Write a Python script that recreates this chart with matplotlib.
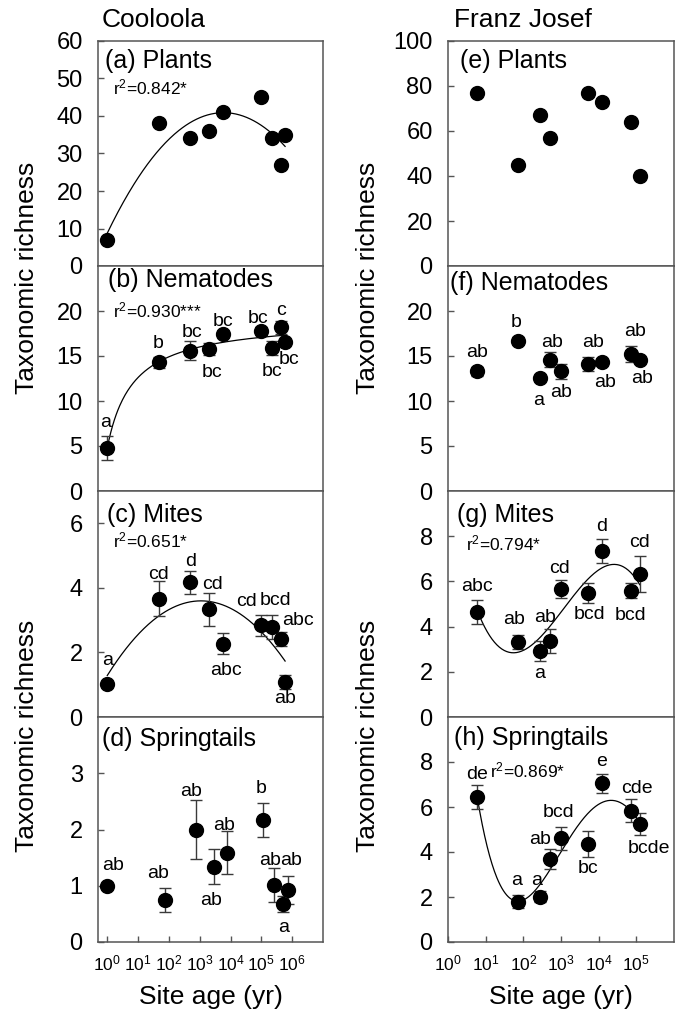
import numpy as np
import matplotlib
matplotlib.use('Agg')
import matplotlib.pyplot as plt
from matplotlib.ticker import NullLocator, FixedLocator

plt.rcParams['font.family'] = 'Liberation Sans'
plt.rcParams['mathtext.fontset'] = 'custom'
plt.rcParams['mathtext.rm'] = 'Liberation Sans'
plt.rcParams['mathtext.it'] = 'Liberation Sans:italic'
plt.rcParams['mathtext.default'] = 'regular'

# ---- data ----
# Cooloola site ages (yr)
cool_age = [1, 46, 490, 2000, 5800, 98000, 219000, 427000, 589000]
cool_age_spr = [1, 74, 760, 2950, 7600, 115000, 257000, 513000, 708000]
# Franz Josef site ages (yr)
fj_age = [6, 74, 270, 510, 1000, 5100, 12300, 72000, 123000]

plants_cool = [7, 38, 34, 36, 41, 45, 34, 27, 35]
nema_cool = [4.8, 14.3, 15.6, 15.8, 17.5, 17.8, 15.9, 18.2, 16.6]
nema_cool_err = [1.3, 0.6, 1.05, 0.65, 0.3, 0.4, 0.8, 0.74, 0.3]
mite_cool = [1.02, 3.67, 4.17, 3.33, 2.27, 2.84, 2.79, 2.41, 1.09]
mite_cool_err = [0.0, 0.54, 0.35, 0.5, 0.33, 0.32, 0.37, 0.22, 0.22]
spr_cool = [1.0, 0.75, 2.0, 1.34, 1.59, 2.17, 1.01, 0.68, 0.92]
spr_cool_err = [0.0, 0.21, 0.52, 0.31, 0.38, 0.3, 0.3, 0.14, 0.25]

plants_fj = [77, 45, 67, 57, np.nan, 77, 73, 64, 40]
nema_fj = [13.3, 16.7, 12.6, 14.6, 13.3, 14.1, 14.3, 15.2, 14.6]
nema_fj_err = [0.5, 0.4, 0.2, 0.8, 0.8, 0.8, 0.3, 0.9, 0.2]
mite_fj = [4.66, 3.33, 2.92, 3.36, 5.66, 5.47, 7.34, 5.59, 6.33]
mite_fj_err = [0.53, 0.32, 0.44, 0.55, 0.38, 0.44, 0.52, 0.33, 0.8]
spr_fj = [6.43, 1.79, 2.01, 3.69, 4.61, 4.36, 7.05, 5.84, 5.24]
spr_fj_err = [0.54, 0.28, 0.24, 0.44, 0.52, 0.56, 0.41, 0.5, 0.49]

nema_cool_let = ['a', 'b', 'bc', 'bc', 'bc', 'bc', 'bc', 'c', 'bc']
mite_cool_let = ['a', 'cd', 'd', 'cd', 'abc', 'cd', 'bcd', 'abc', 'ab']
spr_cool_let = ['ab', 'ab', 'ab', 'ab', 'ab', 'b', 'ab', 'a', 'ab']
nema_fj_let = ['ab', 'b', 'a', 'ab', 'ab', 'ab', 'ab', 'ab', 'ab']
mite_fj_let = ['abc', 'ab', 'a', 'ab', 'cd', 'bcd', 'd', 'bcd', 'cd']
spr_fj_let = ['de', 'a', 'a', 'ab', 'bcd', 'bc', 'e', 'cde', 'bcde']

# ---- label placement (pixels from point centre to text baseline, +y = down) ----
nema_cool_off = [(-2, -21), (0, -14), (2, -14), (3, 28), (0, -8), (-3, -8), (0, 28), (0, -12), (4, 22)]
mite_cool_off = [(0, -19), (0, -20), (0, -16), (3, -20), (3, 31), (-15, -19), (4, -22), (17, -14), (0, 21)]
spr_cool_off = [(6, -16), (-7, -22), (-5, -33), (-3, 38), (-3, -23), (-2, -27), (-4, -20), (0, 28), (4, -25)]
nema_fj_off = [(0, -14), (-2, -14), (-1, 27), (2, -13), (0, 26), (5, -17), (3, 25), (4, -18), (2, 23)]
mite_fj_off = [(0, -21), (-4, -18), (0, 27), (-5, -19), (-2, -16), (2, 26), (0, -20), (0, 29), (0, -27)]
spr_fj_off = [(0, -18), (-2, -17), (-3, -12), (-10, -15), (-2, -21), (0, 29), (0, -17), (6, -18), (9, 29)]

W, H = 684, 1016


def box(left, top, w, h):
    return [left / W, 1 - (top + h) / H, w / W, h / H]


def fit_poly(x, y, deg):
    L = np.log10(np.asarray(x, float))
    yy = np.asarray(y, float)
    ok = ~np.isnan(yy)
    c = np.polyfit(L[ok], yy[ok], deg)
    Lf = np.linspace(L[ok].min(), L[ok].max(), 200)
    return 10 ** Lf, np.polyval(c, Lf)


def fit_sat(x, y):
    # y = a + b*L/(h+L), L = log10(age)
    L = np.log10(np.asarray(x, float))
    yy = np.asarray(y, float)
    best = None
    for h in np.linspace(0.1, 8, 400):
        A = np.column_stack([np.ones_like(L), L / (h + L)])
        c, res, _, _ = np.linalg.lstsq(A, yy, rcond=None)
        r = np.sum((A @ c - yy) ** 2)
        if best is None or r < best[0]:
            best = (r, h, c)
    _, h, c = best
    Lf = np.linspace(L.min(), L.max(), 200)
    return 10 ** Lf, c[0] + c[1] * Lf / (h + Lf)


fig = plt.figure(figsize=(W / 100, H / 100), dpi=100)

tops = [41, 266, 491, 717]
heights = [225, 225, 226, 225]
cols = [(98, 225), (448, 226)]

spine_c = '#555555'


def panel(ax, x, y, err, ylim, yticks, xlim, xticks, bottom, title, tpos,
          letters=None, offs=None, curve=None, r2=None, r2pos=None):
    ax.set_xscale('log')
    ax.set_xlim(*xlim)
    ax.set_ylim(*ylim)
    ax.yaxis.set_major_locator(FixedLocator(yticks))
    ax.set_yticklabels([str(t) for t in yticks])
    ax.xaxis.set_minor_locator(NullLocator())
    ax.xaxis.set_major_locator(FixedLocator(xticks))
    for s in ax.spines.values():
        s.set_color(spine_c)
        s.set_linewidth(1.1)
    ax.tick_params(direction='in', length=4, width=1, color=spine_c,
                   labelsize=17, pad=11)
    if bottom:
        ax.set_xticklabels(['$10^{%d}$' % round(np.log10(t)) for t in xticks])
        ax.tick_params(axis='x', labelsize=12.5, pad=8)
    else:
        ax.tick_params(axis='x', bottom=False, labelbottom=False)
    if curve is not None:
        ax.plot(curve[0], curve[1], color='black', lw=0.9, zorder=2)
    if err is not None:
        ax.errorbar(x, y, yerr=err, fmt='none', ecolor='#3a3a3a',
                    elinewidth=1, capsize=4.5, capthick=1, zorder=3)
    ax.plot(x, y, 'o', color='black', ms=10, zorder=4)
    ax.text(tpos[0], tpos[1], title, transform=ax.transAxes,
            fontsize=18, va='baseline', ha='left')
    if r2 is not None:
        ax.text(r2pos[0], r2pos[1], r2, transform=ax.transAxes,
                fontsize=12.5, va='baseline', ha='left')
    if letters is not None:
        for xi, yi, s, (dx, dy) in zip(x, y, letters, offs):
            ax.annotate(s, (xi, yi), xytext=(dx, -dy), textcoords='offset pixels',
                        ha='center', va='baseline', fontsize=14)


lx = (0.5, 1e7)
lt = [1, 10, 100, 1e3, 1e4, 1e5, 1e6]
rx = (1, 1e6)
rt = [1, 10, 100, 1e3, 1e4, 1e5]

axs = [[fig.add_axes(box(c[0], t, c[1], h)) for c in cols] for t, h in zip(tops, heights)]

# Cooloola
panel(axs[0][0], cool_age, plants_cool, None, (0, 60), range(0, 61, 10), lx, lt, False,
      '(a) Plants', (0.031, 0.88), curve=fit_poly(cool_age, plants_cool, 2),
      r2='r$^2$=0.842*', r2pos=(0.067, 0.764))
panel(axs[1][0], cool_age, nema_cool, nema_cool_err, (0, 25), range(0, 21, 5), lx, lt, False,
      '(b) Nematodes', (0.044, 0.908), nema_cool_let, nema_cool_off,
      curve=fit_sat(cool_age, nema_cool), r2='r$^2$=0.930***', r2pos=(0.067, 0.773))
panel(axs[2][0], cool_age, mite_cool, mite_cool_err, (0, 7), range(0, 7, 2), lx, lt, False,
      '(c) Mites', (0.04, 0.864), mite_cool_let, mite_cool_off,
      curve=fit_poly(cool_age, mite_cool, 2), r2='r$^2$=0.651*', r2pos=(0.067, 0.752))
panel(axs[3][0], cool_age_spr, spr_cool, spr_cool_err, (0, 4), range(0, 4), lx, lt, True,
      '(d) Springtails', (0.018, 0.871), spr_cool_let, spr_cool_off)

# Franz Josef
panel(axs[0][1], fj_age, plants_fj, None, (0, 100), range(0, 101, 20), rx, rt, False,
      '(e) Plants', (0.053, 0.88))
panel(axs[1][1], fj_age, nema_fj, nema_fj_err, (0, 25), range(0, 21, 5), rx, rt, False,
      '(f) Nematodes', (0.009, 0.893), nema_fj_let, nema_fj_off)
panel(axs[2][1], fj_age, mite_fj, mite_fj_err, (0, 10), range(0, 9, 2), rx, rt, False,
      '(g) Mites', (0.04, 0.864), mite_fj_let, mite_fj_off,
      curve=fit_poly(fj_age, mite_fj, 3), r2='r$^2$=0.794*', r2pos=(0.08, 0.735))
panel(axs[3][1], fj_age, spr_fj, spr_fj_err, (0, 10), range(0, 9, 2), rx, rt, True,
      '(h) Springtails', (0.027, 0.876), spr_fj_let, spr_fj_off,
      curve=fit_poly(fj_age, spr_fj, 4), r2='r$^2$=0.869*', r2pos=(0.186, 0.733))

# column titles and axis labels
fig.text(102 / W, 1 - 27 / H, 'Cooloola', fontsize=19, ha='left', va='baseline')
fig.text(454 / W, 1 - 27 / H, 'Franz Josef', fontsize=19, ha='left', va='baseline')
for xc in (27, 368):
    for yc in (278, 736):
        fig.text(xc / W, 1 - yc / H, 'Taxonomic richness', rotation=90,
                 fontsize=19, ha='center', va='center')
for xc in (210.5, 561):
    fig.text(xc / W, 1 - 1004 / H, 'Site age (yr)', fontsize=19,
             ha='center', va='baseline')

fig.savefig('out.png', dpi=100)
